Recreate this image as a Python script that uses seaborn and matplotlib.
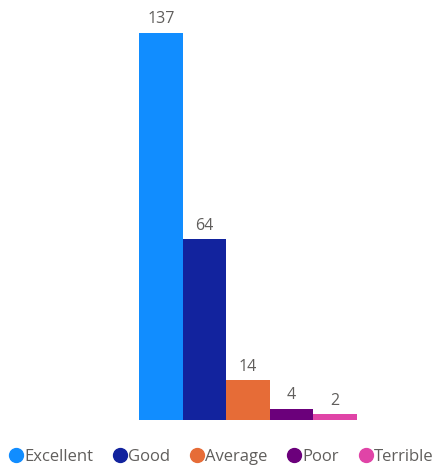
import matplotlib
matplotlib.use("Agg")
import matplotlib.pyplot as plt
from matplotlib.lines import Line2D
import seaborn as sns
import pandas as pd

categories = ["Excellent", "Good", "Average", "Poor", "Terrible"]
counts = [137, 64, 14, 4, 2]
colors = ["#118DFF", "#12239E", "#E66C37", "#6B007B", "#E044A7"]

sns.set_theme(style="white")
plt.rcParams["font.family"] = ["Open Sans", "DejaVu Sans"]
text_color = "#605E5C"

df = pd.DataFrame({"rating": categories, "count": counts})

fig = plt.figure(figsize=(4.41, 4.72), dpi=100)
ax = fig.add_axes([139 / 441, 52 / 472, 218 / 441, 387 / 472])

sns.barplot(data=df, x="rating", y="count", hue="rating", palette=colors,
            width=1.0, dodge=False, legend=False, ax=ax, saturation=1,
            linewidth=0)

ax.set_ylim(0, max(counts))
ax.set_xlim(-0.5, len(categories) - 0.5)
ax.axis("off")

for i, v in enumerate(counts):
    ax.annotate(str(v), (i, v), xytext=(0, 4), textcoords="offset points",
                ha="center", va="bottom", fontsize=11.5, color=text_color,
                annotation_clip=False)

handles = [Line2D([0], [0], marker="o", linestyle="", markersize=10,
                  markerfacecolor=c, markeredgecolor=c) for c in colors]
fig.legend(handles, categories, loc="center", bbox_to_anchor=(0.5, 1 - 457 / 472),
           ncol=5, frameon=False, handletextpad=0.0, columnspacing=1.1,
           handlelength=1.0, fontsize=12, labelcolor=text_color)

fig.savefig("out.png", dpi=100)
